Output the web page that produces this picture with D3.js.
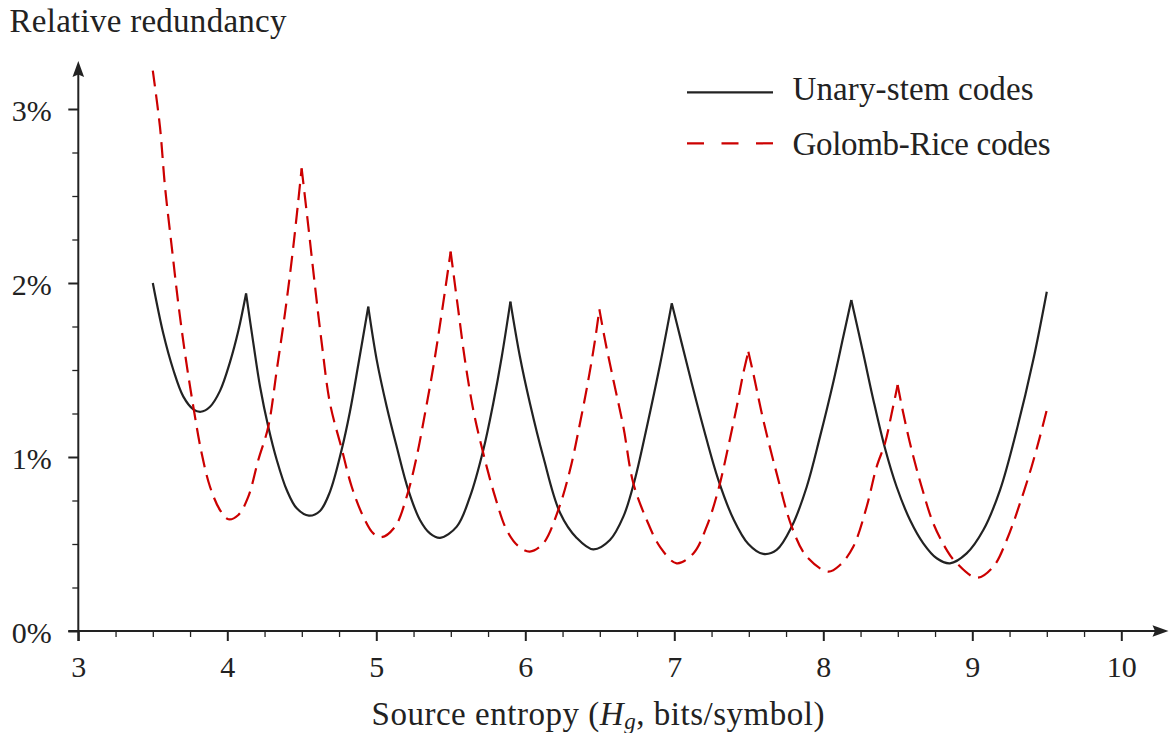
<!DOCTYPE html>
<html>
<head>
<meta charset="utf-8">
<script src="https://cdn.jsdelivr.net/npm/d3@7"></script>
<style>
  html, body { margin: 0; padding: 0; background: #fff; }
  svg { display: block; }
</style>
</head>
<body>
<svg id="chart" width="1169" height="733"></svg>
<script>
// ---------- data ----------
const xTicks = [3, 4, 5, 6, 7, 8, 9, 10];
const xTickLabels = ["3", "4", "5", "6", "7", "8", "9", "10"];
const yTicks = [0, 1, 2, 3];
const yTickLabels = ["0%", "1%", "2%", "3%"];
const seriesNames = ["Unary-stem codes", "Golomb-Rice codes"];

// [source entropy H (bits/symbol), relative redundancy (%)]
const unaryStem = [
  [3.50, 2.00], [3.57, 1.711], [3.638, 1.50], [3.705, 1.347], [3.772, 1.274], [3.822, 1.26],
  [3.884, 1.289], [3.951, 1.38], [4.018, 1.545], [4.074, 1.725], [4.126, 1.94],
  [4.175, 1.653], [4.22, 1.404], [4.275, 1.174], [4.332, 0.983], [4.399, 0.81], [4.466, 0.705],
  [4.548, 0.663], [4.622, 0.69], [4.689, 0.80], [4.767, 1.04], [4.823, 1.26], [4.879, 1.53],
  [4.946, 1.864],
  [5.003, 1.557], [5.07, 1.289], [5.137, 1.059], [5.215, 0.81], [5.293, 0.638], [5.36, 0.561],
  [5.428, 0.535], [5.54, 0.60], [5.629, 0.772], [5.718, 1.04], [5.785, 1.309], [5.842, 1.576],
  [5.90, 1.893],
  [5.964, 1.576], [6.031, 1.309], [6.121, 1.00], [6.233, 0.68], [6.345, 0.535], [6.456, 0.469],
  [6.568, 0.523], [6.658, 0.657], [6.732, 0.86], [6.815, 1.17], [6.904, 1.53], [6.983, 1.883],
  [7.05, 1.653], [7.117, 1.424], [7.195, 1.17], [7.295, 0.87], [7.396, 0.645], [7.497, 0.50],
  [7.597, 0.443], [7.687, 0.466], [7.788, 0.60], [7.889, 0.829], [7.978, 1.117], [8.067, 1.43],
  [8.134, 1.691], [8.188, 1.902],
  [8.268, 1.596], [8.336, 1.328], [8.414, 1.05], [8.492, 0.829], [8.582, 0.638], [8.671, 0.504],
  [8.761, 0.418], [8.85, 0.389], [8.962, 0.446], [9.074, 0.58], [9.186, 0.81], [9.298, 1.155],
  [9.409, 1.557], [9.50, 1.95]
];
const unaryCusps = [4.126, 4.946, 5.90, 6.983, 8.188];

const golombRice = [
  [3.50, 3.22], [3.548, 2.898], [3.582, 2.553], [3.627, 2.209], [3.671, 1.883], [3.716, 1.596],
  [3.772, 1.289], [3.828, 1.021], [3.884, 0.829], [3.951, 0.695], [4.007, 0.642], [4.074, 0.667],
  [4.141, 0.772], [4.208, 0.983], [4.275, 1.174], [4.332, 1.50], [4.387, 1.826], [4.443, 2.209],
  [4.499, 2.659],
  [4.544, 2.324], [4.589, 1.979], [4.634, 1.653], [4.689, 1.309], [4.767, 1.05], [4.835, 0.829],
  [4.913, 0.657], [4.98, 0.561], [5.035, 0.539], [5.126, 0.60], [5.204, 0.772], [5.271, 1.002],
  [5.327, 1.251], [5.383, 1.519], [5.439, 1.826], [5.499, 2.18],
  [5.55, 1.845], [5.595, 1.557], [5.651, 1.27], [5.718, 1.021], [5.797, 0.772], [5.875, 0.58],
  [5.95, 0.49], [6.03, 0.456], [6.121, 0.504], [6.221, 0.695], [6.30, 0.925], [6.367, 1.194],
  [6.423, 1.443], [6.468, 1.672], [6.497, 1.849],
  [6.535, 1.672], [6.591, 1.443], [6.658, 1.174], [6.725, 0.849], [6.815, 0.638], [6.904, 0.484],
  [7.016, 0.389], [7.128, 0.446], [7.217, 0.60], [7.295, 0.81], [7.362, 1.059], [7.419, 1.289],
  [7.463, 1.481], [7.497, 1.605],
  [7.53, 1.481], [7.597, 1.213], [7.687, 0.906], [7.788, 0.60], [7.889, 0.427], [8.034, 0.341],
  [8.112, 0.379], [8.201, 0.484], [8.291, 0.714], [8.358, 0.944], [8.414, 1.079], [8.459, 1.251],
  [8.499, 1.414],
  [8.537, 1.251], [8.593, 1.04], [8.66, 0.829], [8.738, 0.619], [8.828, 0.466], [8.884, 0.40],
  [9.03, 0.306], [9.141, 0.37], [9.231, 0.523], [9.32, 0.734], [9.398, 0.944], [9.454, 1.117],
  [9.50, 1.27]
];
const golombCusps = [4.499, 5.499, 6.497, 7.497, 8.499];

// ---------- layout ----------
const svg = d3.select("#chart");
const x = d3.scaleLinear().domain([3, 10]).range([78.3, 1121.3]);
const y = d3.scaleLinear().domain([0, 3]).range([631, 109]);
const ink = "#222";
const red = "#cc0000";
const serif = '"Liberation Serif"';

function splitAtCusps(data, cusps) {
  const arcs = [];
  let cur = [];
  data.forEach(d => {
    cur.push(d);
    if (cusps.some(c => Math.abs(c - d[0]) < 1e-9)) {
      arcs.push(cur);
      cur = [d];
    }
  });
  if (cur.length > 1) arcs.push(cur);
  return arcs;
}

const line = d3.line()
  .x(d => x(d[0]))
  .y(d => y(d[1]))
  .curve(d3.curveCatmullRom.alpha(0.5));

// ---------- axes ----------
const minorX = d3.range(3, 10.001, 0.25).filter(v => Math.abs(v - Math.round(v)) > 1e-6);
const minorY = d3.range(0, 3.001, 0.25).filter(v => Math.abs(v - Math.round(v)) > 1e-6);

const gx = svg.append("g").attr("transform", `translate(0,${y(0)})`);
gx.call(d3.axisBottom(x).tickValues(minorX).tickSize(6).tickFormat(""))
  .call(g => g.select(".domain").remove())
  .call(g => g.selectAll("line").attr("stroke", ink).attr("stroke-width", 1.3));
const gxMaj = svg.append("g").attr("transform", `translate(0,${y(0)})`);
gxMaj.call(d3.axisBottom(x).tickValues(xTicks).tickSize(10).tickFormat((d, i) => xTickLabels[i]))
  .call(g => g.select(".domain").remove())
  .call(g => g.selectAll("line").attr("stroke", ink).attr("stroke-width", 2))
  .call(g => g.selectAll("text")
    .attr("y", 46).attr("dy", null)
    .style("font-family", serif)
    .style("font-size", "30px").attr("fill", ink));

const gy = svg.append("g").attr("transform", `translate(${x(3)},0)`);
gy.call(d3.axisLeft(y).tickValues(minorY).tickSize(6).tickFormat(""))
  .call(g => g.select(".domain").remove())
  .call(g => g.selectAll("line").attr("stroke", ink).attr("stroke-width", 1.3));
const gyMaj = svg.append("g").attr("transform", `translate(${x(3)},0)`);
gyMaj.call(d3.axisLeft(y).tickValues(yTicks).tickSize(10).tickFormat((d, i) => yTickLabels[i]))
  .call(g => g.select(".domain").remove())
  .call(g => g.selectAll("line").attr("stroke", ink).attr("stroke-width", 2))
  .call(g => g.selectAll("text")
    .attr("x", -26.5).attr("dy", null).attr("y", 11)
    .style("font-family", serif)
    .style("font-size", "30px").attr("fill", ink));

// axis lines with arrows
svg.append("line")
  .attr("x1", x(3)).attr("x2", x(3))
  .attr("y1", y(0) + 10).attr("y2", 72)
  .attr("stroke", ink).attr("stroke-width", 2);
svg.append("line")
  .attr("x1", x(3) - 10).attr("x2", 1158)
  .attr("y1", y(0)).attr("y2", y(0))
  .attr("stroke", ink).attr("stroke-width", 2);
svg.append("path")
  .attr("d", `M${x(3)},61 L${x(3) - 5.8},77 L${x(3)},74.5 L${x(3) + 5.8},77 Z`)
  .attr("fill", ink);
svg.append("path")
  .attr("d", `M1168.5,${y(0)} L1152.5,${y(0) - 5.8} L1155,${y(0)} L1152.5,${y(0) + 5.8} Z`)
  .attr("fill", ink);

// ---------- curves ----------
const gCurves = svg.append("g");
splitAtCusps(unaryStem, unaryCusps).forEach(arc => {
  gCurves.append("path")
    .attr("d", line(arc))
    .attr("fill", "none")
    .attr("stroke", ink)
    .attr("stroke-width", 2.2);
});
splitAtCusps(golombRice, golombCusps).forEach(arc => {
  gCurves.append("path")
    .attr("d", line(arc))
    .attr("fill", "none")
    .attr("stroke", red)
    .attr("stroke-width", 2.2)
    .attr("stroke-dasharray", "16,8");
});

// ---------- texts ----------
function label(sel) {
  return sel.style("font-family", serif).style("font-size", "33px").attr("fill", ink);
}
label(svg.append("text"))
  .attr("x", 9.5).attr("y", 31.5)
  .attr("textLength", 277).attr("lengthAdjust", "spacing")
  .text("Relative redundancy");

const xl = label(svg.append("text"))
  .attr("x", 371.5).attr("y", 725)
  .attr("textLength", 453).attr("lengthAdjust", "spacing");
xl.append("tspan").text("Source entropy (");
xl.append("tspan").style("font-style", "italic").text("H");
xl.append("tspan").style("font-style", "italic").style("font-size", "23px").attr("dy", 4).text("g");
xl.append("tspan").attr("dy", -4).text(", bits/symbol)");

// ---------- legend ----------
const legend = svg.append("g");
legend.append("line")
  .attr("x1", 687).attr("x2", 773).attr("y1", 92.3).attr("y2", 92.3)
  .attr("stroke", ink).attr("stroke-width", 2.2);
label(legend.append("text"))
  .attr("x", 792.5).attr("y", 99.5)
  .attr("textLength", 241).attr("lengthAdjust", "spacing")
  .text(seriesNames[0]);
legend.append("line")
  .attr("x1", 687).attr("x2", 773).attr("y1", 143.3).attr("y2", 143.3)
  .attr("stroke", red).attr("stroke-width", 2.2)
  .attr("stroke-dasharray", "17,17.5");
label(legend.append("text"))
  .attr("x", 792.5).attr("y", 155)
  .attr("textLength", 258).attr("lengthAdjust", "spacing")
  .text(seriesNames[1]);
</script>
</body>
</html>
